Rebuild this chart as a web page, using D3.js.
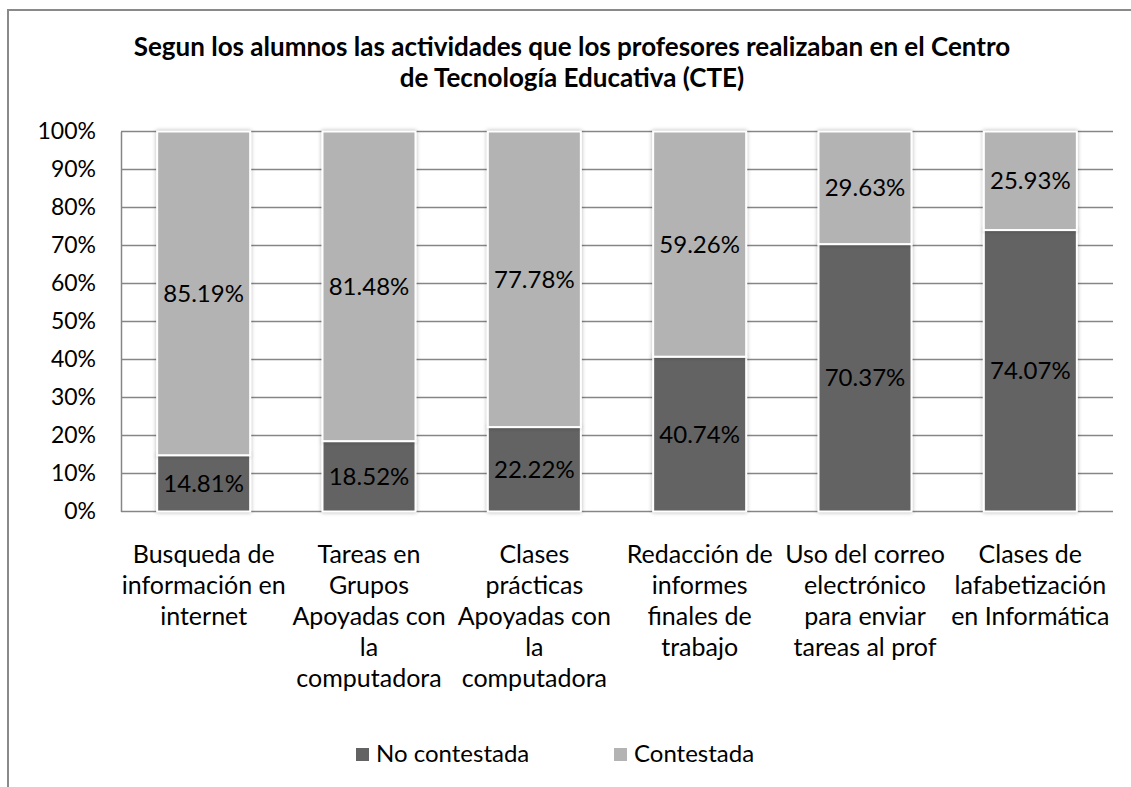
<!DOCTYPE html>
<html>
<head>
<meta charset="utf-8">
<script src="https://cdnjs.cloudflare.com/ajax/libs/d3/7.8.5/d3.min.js"></script>
<style>
  html, body { margin: 0; padding: 0; background: #fff; }
  svg { display: block; }
  text { font-family: Lato, "Open Sans", sans-serif; fill: #000; }
</style>
</head>
<body>
<svg id="chart" width="1131" height="787"></svg>
<script>
// Activity categories (label lines as wrapped under each column)
const categories = [
  ["Busqueda de", "información en", "internet"],
  ["Tareas en", "Grupos", "Apoyadas con", "la", "computadora"],
  ["Clases", "prácticas", "Apoyadas con", "la", "computadora"],
  ["Redacción de", "informes", "finales de", "trabajo"],
  ["Uso del correo", "electrónico", "para enviar", "tareas al prof"],
  ["Clases de", "lafabetización", "en Informática"]
];
// Share of students (percent)
const noContestada = [14.81, 18.52, 22.22, 40.74, 70.37, 74.07];
const contestada   = [85.19, 81.48, 77.78, 59.26, 29.63, 25.93];
const seriesNames  = ["No contestada", "Contestada"];
const seriesColors = ["#636363", "#b3b3b3"];
const yTicks = [0, 10, 20, 30, 40, 50, 60, 70, 80, 90, 100];
const titleLines = [
  "Segun los alumnos las actividades que los profesores realizaban en el Centro",
  "de Tecnología Educativa (CTE)"
];

const svg = d3.select("#chart");
const plot = { left: 121, right: 1113, top: 131.5, bottom: 511.5 };

// soft shadow around the bar segments
const defs = svg.append("defs");
const f = defs.append("filter").attr("id", "shadow")
  .attr("x", "-10%").attr("y", "-10%").attr("width", "120%").attr("height", "120%");
f.append("feGaussianBlur").attr("in", "SourceAlpha").attr("stdDeviation", 2).attr("result", "b");
f.append("feComponentTransfer").attr("in", "b").attr("result", "s")
  .append("feFuncA").attr("type", "linear").attr("slope", 0.3);
const m = f.append("feMerge");
m.append("feMergeNode").attr("in", "s");
m.append("feMergeNode").attr("in", "SourceGraphic");

// chart frame (continues past the right and bottom edges)
svg.append("rect")
  .attr("x", 8).attr("y", 10).attr("width", 1200).attr("height", 900)
  .attr("fill", "none").attr("stroke", "#8a8a8a").attr("stroke-width", 2);

// title
svg.append("g").selectAll("text").data(titleLines).join("text")
  .attr("x", 572).attr("y", (d, i) => 56 + i * 31)
  .attr("text-anchor", "middle")
  .style("font-weight", "bold").style("font-size", "26px")
  .text(d => d);

const x = d3.scaleBand()
  .domain(d3.range(categories.length))
  .range([plot.left, plot.right])
  .paddingInner(0.4375).paddingOuter(0.21875);
const y = d3.scaleLinear().domain([0, 100]).range([plot.bottom, plot.top]);

// gridlines
svg.append("g").selectAll("line").data(yTicks).join("line")
  .attr("x1", plot.left).attr("x2", plot.right)
  .attr("y1", d => y(d)).attr("y2", d => y(d))
  .attr("stroke", "#868686").attr("stroke-width", 1.5);

// y axis
const yAxis = svg.append("g")
  .attr("transform", `translate(${plot.left},0)`)
  .call(d3.axisLeft(y).tickValues(yTicks).tickFormat(d => d + "%").tickSize(0).tickPadding(25));
yAxis.select(".domain").attr("stroke", "#868686").attr("stroke-width", 1.5);
yAxis.selectAll("text").style("font-size", "23px").style("font-family", "Lato, sans-serif").attr("fill", "#000");

// stacked bars
const rows = categories.map((c, i) => ({ i, a: noContestada[i], b: contestada[i] }));
const stack = d3.stack().keys(["a", "b"])(rows);
const layers = svg.append("g").selectAll("g").data(stack).join("g")
  .attr("fill", (d, k) => seriesColors[k]);
layers.selectAll("rect").data(d => d).join("rect")
  .attr("x", d => x(d.data.i))
  .attr("width", x.bandwidth())
  .attr("y", d => y(d[1]))
  .attr("height", d => y(d[0]) - y(d[1]))
  .attr("stroke", "#fff").attr("stroke-width", 2)
  .attr("filter", "url(#shadow)");

// value labels
layers.selectAll("text").data(d => d).join("text")
  .attr("x", d => x(d.data.i) + x.bandwidth() / 2)
  .attr("y", d => (y(d[0]) + y(d[1])) / 2)
  .attr("dy", "0.36em")
  .attr("text-anchor", "middle")
  .style("font-size", "24px")
  .attr("fill", "#000")
  .text(d => (d[1] - d[0]).toFixed(2) + "%");

// category labels
const cat = svg.append("g").selectAll("text").data(categories).join("text")
  .attr("text-anchor", "middle")
  .style("font-size", "25px");
cat.each(function (lines, i) {
  d3.select(this).selectAll("tspan").data(lines).join("tspan")
    .attr("x", x(i) + x.bandwidth() / 2)
    .attr("y", (d, j) => 563 + j * 31)
    .text(d => d);
});

// legend
const legendX = [356, 614];
const lg = svg.append("g").selectAll("g").data(seriesNames).join("g")
  .attr("transform", (d, i) => `translate(${legendX[i]},748)`);
lg.append("rect").attr("width", 13).attr("height", 13)
  .attr("fill", (d, i) => seriesColors[i]);
lg.append("text").attr("x", 20).attr("y", 14)
  .style("font-size", "24px").text(d => d);
</script>
</body>
</html>
